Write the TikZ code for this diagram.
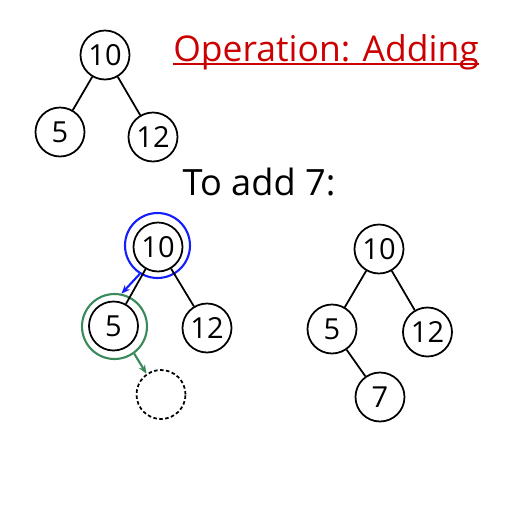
\documentclass[tikz,border=0pt]{standalone}
\usepackage{fontspec}
\setmainfont{Open Sans}
\usetikzlibrary{arrows.meta}
\definecolor{ringblue}{RGB}{20,30,250}
\definecolor{ringgreen}{RGB}{56,138,90}
\definecolor{titlered}{RGB}{204,0,0}
\begin{document}
\begin{tikzpicture}[x=0.02cm, y=-0.02cm]
\tikzstyle{vertex} = [draw, circle, line width=1pt, inner sep=0, minimum size=0.98cm, font=\fontsize{16.5}{18}\selectfont]
\tikzstyle{ring} = [draw, circle, line width=1.2pt, inner sep=0, minimum size=1.3cm]
\tikzstyle{edge} = [draw, line width=1pt]
\tikzstyle{move} = [line width=1.2pt, -{Stealth[length=5pt,width=4pt]}]
\useasboundingbox (0,0) rectangle (512,512);
% first tree
\node[vertex] (a_10) at (105,55) {10};
\node[vertex] (a_5) at (60,132) {5};
\node[vertex] (a_12) at (153,137) {12};
\draw[edge] (a_10) -- (a_5);
\draw[edge] (a_10) -- (a_12);
% texts
\node[anchor=base, inner sep=0, text=titlered, font=\fontsize{20.2}{23}\selectfont] (title) at (326,61) {Operation: Adding};
\draw[titlered, line width=0.9pt] ([yshift=-1.6pt]title.base west) -- ([yshift=-1.6pt]title.base east);
\node[anchor=base, inner sep=0, font=\fontsize{20.6}{24}\selectfont] (todo) at (259,195) {To add 7:};
% tree while adding
\node[vertex] (b_10) at (158,247) {10};
\node[vertex] (b_5) at (113.5,326) {5};
\node[vertex] (b_12) at (207,328) {12};
\node[vertex, dash pattern=on 2pt off 1.4pt] (b_new) at (161,394.5) {};
\node[ring, ringblue] (b_r10) at (157.5,245.5) {};
\node[ring, ringgreen] (b_r5) at (114.5,326.5) {};
\draw[edge] (b_10) -- (b_5);
\draw[edge] (b_10) -- (b_12);
\draw[move, ringblue] (b_r10.238) -- (b_r5.78);
\draw[move, ringgreen] (b_r5.306) -- (b_new.125);
% tree after adding
\node[vertex] (c_10) at (379,249) {10};
\node[vertex] (c_5) at (332,329) {5};
\node[vertex] (c_12) at (427.5,332) {12};
\node[vertex] (c_7) at (380,397) {7};
\draw[edge] (c_10) -- (c_5);
\draw[edge] (c_10) -- (c_12);
\draw[edge] (c_5) -- (c_7);
\end{tikzpicture}
\end{document}
